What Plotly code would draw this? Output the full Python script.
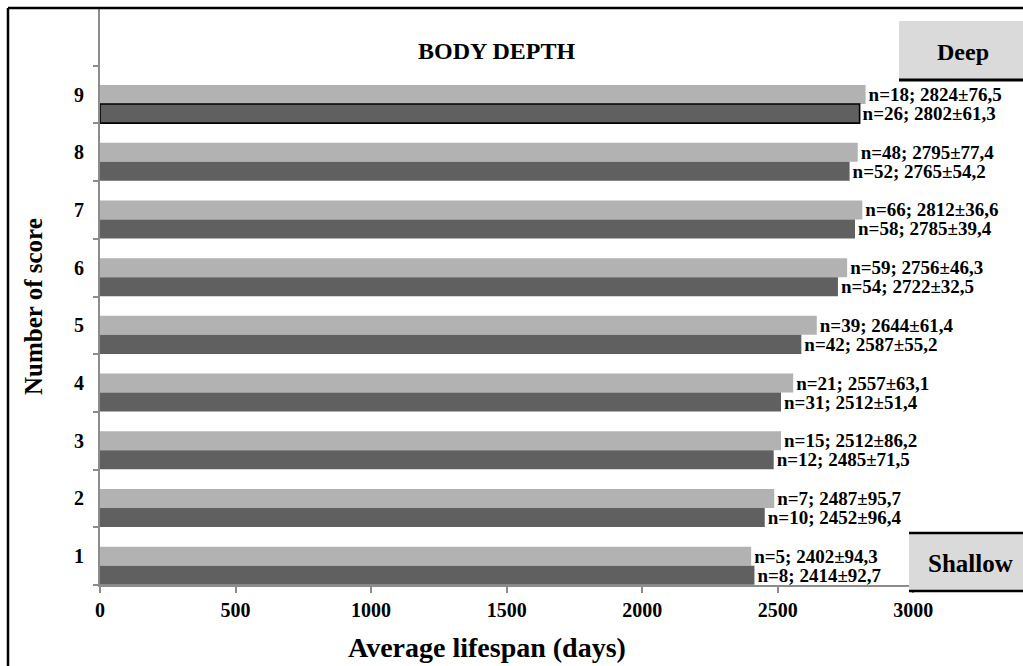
import plotly.graph_objects as go

scores = [1, 2, 3, 4, 5, 6, 7, 8, 9]
score_labels = ["1", "2", "3", "4", "5", "6", "7", "8", "9"]

light_n = [5, 7, 15, 21, 39, 59, 66, 48, 18]
light_mean = [2402, 2487, 2512, 2557, 2644, 2756, 2812, 2795, 2824]
light_sd = [94.3, 95.7, 86.2, 63.1, 61.4, 46.3, 36.6, 77.4, 76.5]

dark_n = [8, 10, 12, 31, 42, 54, 58, 52, 26]
dark_mean = [2414, 2452, 2485, 2512, 2587, 2722, 2785, 2765, 2802]
dark_sd = [92.7, 96.4, 71.5, 51.4, 55.2, 32.5, 39.4, 54.2, 61.3]

x_ticks = [0, 500, 1000, 1500, 2000, 2500, 3000]

title_text = "BODY DEPTH"
x_title = "Average lifespan (days)"
y_title = "Number of score"
top_box_text = "Deep"
bottom_box_text = "Shallow"

W, H = 1023, 666
L, R, T, B = 100, 0, 8, 81
PW, PH = W - L - R, H - T - B
SERIF = "Liberation Serif"


def lab(n, m, s):
    return f"n={n}; {m}±{s:.1f}".replace(".", ",")


def px(x):
    return (x - L) / PW


def py(y):
    return (H - B - y) / PH


fig = go.Figure()

fig.add_trace(go.Bar(
    y=scores, x=light_mean, orientation="h",
    offset=-0.165, width=0.33,
    marker=dict(color="#b2b2b2", line=dict(width=0)),
    text=[lab(n, m, s) for n, m, s in zip(light_n, light_mean, light_sd)],
    textposition="outside", constraintext="none", cliponaxis=False,
    textfont=dict(family=SERIF, size=19, color="black", weight="bold"),
    showlegend=False,
))

dark_line_w = [0] * (len(scores) - 1) + [1.6]
fig.add_trace(go.Bar(
    y=scores, x=dark_mean, orientation="h",
    offset=-0.495, width=0.33,
    marker=dict(color="#606060", line=dict(width=dark_line_w, color="black")),
    text=[lab(n, m, s) for n, m, s in zip(dark_n, dark_mean, dark_sd)],
    textposition="outside", constraintext="none", cliponaxis=False,
    textfont=dict(family=SERIF, size=19, color="black", weight="bold"),
    showlegend=False,
))

axis_grey = "#8c8c8c"
fig.update_layout(
    width=W, height=H,
    margin=dict(l=L, r=R, t=T, b=B, pad=0),
    plot_bgcolor="white", paper_bgcolor="white",
    barmode="overlay",
    xaxis=dict(
        range=[0, PW / 0.2711], tickvals=x_ticks, ticktext=[str(v) for v in x_ticks],
        showgrid=False, zeroline=False, showline=True, linecolor=axis_grey, linewidth=1.5,
        ticks="outside", ticklen=6, tickcolor=axis_grey, tickwidth=1.5,
        tickfont=dict(family=SERIF, size=20, color="black", weight="bold"),
    ),
    yaxis=dict(
        range=[0.5, 10.5], tickvals=scores, ticktext=score_labels,
        showgrid=False, zeroline=False, showline=True, linecolor=axis_grey, linewidth=2,
        ticks="", ticklabelstandoff=10,
        tickfont=dict(family=SERIF, size=20, color="black", weight="bold"),
        minor=dict(tickvals=[s - 0.5 for s in scores] + [scores[-1] + 0.5],
                   ticks="outside", ticklen=5, tickcolor=axis_grey, tickwidth=1.5, showgrid=False),
    ),
)

# annotations (titles)
fig.add_annotation(x=px(496), y=py(51), xref="paper", yref="paper", text=f"<b>{title_text}</b>",
                   showarrow=False, font=dict(family=SERIF, size=24, color="black"),
                   xanchor="center", yanchor="middle")
fig.add_annotation(x=px(487), y=py(647), xref="paper", yref="paper", text=f"<b>{x_title}</b>",
                   showarrow=False, font=dict(family=SERIF, size=28, color="black"),
                   xanchor="center", yanchor="middle")
fig.add_annotation(x=px(33), y=py(307), xref="paper", yref="paper", text=f"<b>{y_title}</b>",
                   showarrow=False, textangle=-90, font=dict(family=SERIF, size=25, color="black"),
                   xanchor="center", yanchor="middle")

# boxes
box_fill = "#dadada"
fig.add_shape(type="rect", xref="paper", yref="paper", x0=px(899), x1=px(1024), y0=py(80), y1=py(21),
              fillcolor=box_fill, line=dict(width=0), layer="above")
fig.add_shape(type="line", xref="paper", yref="paper", x0=px(899), x1=px(1024), y0=py(80), y1=py(80),
              line=dict(color="black", width=3), layer="above")
fig.add_annotation(x=px(963), y=py(52), xref="paper", yref="paper", text=f"<b>{top_box_text}</b>",
                   showarrow=False, font=dict(family=SERIF, size=24, color="black"),
                   xanchor="center", yanchor="middle")

fig.add_shape(type="rect", xref="paper", yref="paper", x0=px(909), x1=px(1024), y0=py(591), y1=py(533),
              fillcolor=box_fill, line=dict(width=0), layer="above")
for yy in (533, 591):
    fig.add_shape(type="line", xref="paper", yref="paper", x0=px(909), x1=px(1024), y0=py(yy), y1=py(yy),
                  line=dict(color="black", width=2.5), layer="above")
fig.add_annotation(x=px(970), y=py(563), xref="paper", yref="paper", text=f"<b>{bottom_box_text}</b>",
                   showarrow=False, font=dict(family=SERIF, size=25, color="black"),
                   xanchor="center", yanchor="middle")

# outer frame
fig.add_shape(type="line", xref="paper", yref="paper", x0=px(8), x1=px(1024), y0=py(8), y1=py(8),
              line=dict(color="black", width=2.5), layer="above")
fig.add_shape(type="line", xref="paper", yref="paper", x0=px(8), x1=px(8), y0=py(8), y1=py(667),
              line=dict(color="black", width=2.5), layer="above")

fig.write_html(
    "out.html",
    config={"displayModeBar": False},
    post_script="document.body.style.margin='0';document.body.style.overflow='hidden';",
)
